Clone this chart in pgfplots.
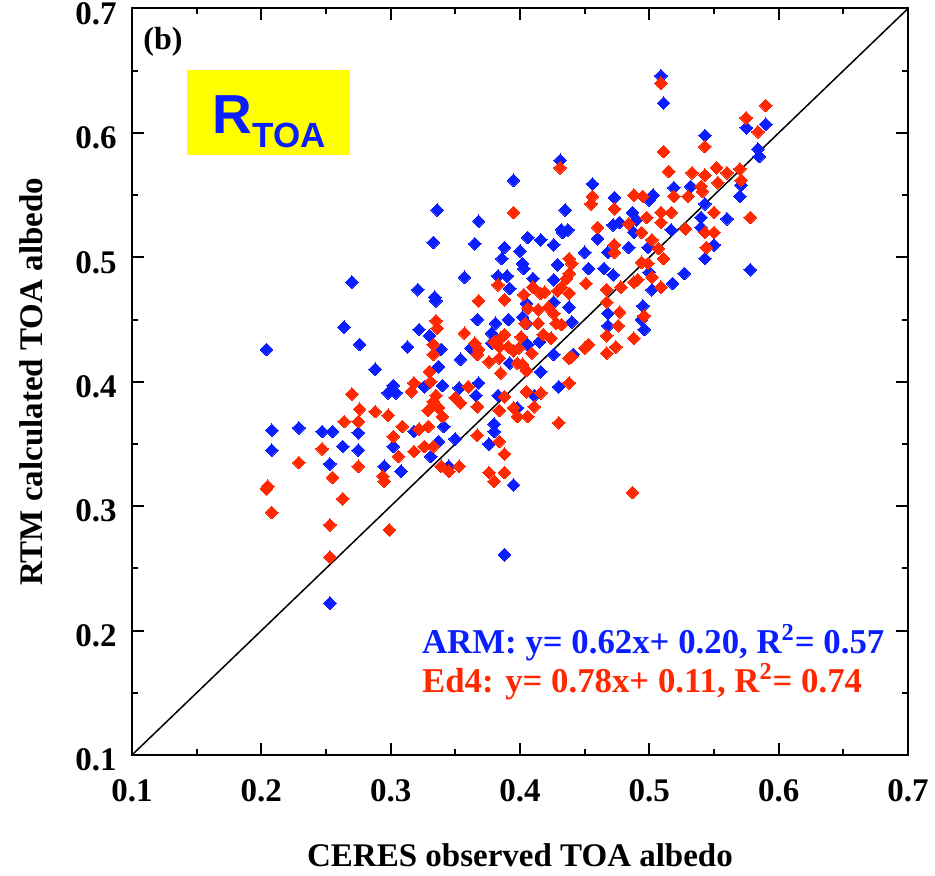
\documentclass[border=0pt]{standalone}
\usepackage{fontspec}
\setmainfont{Liberation Serif}
\newfontfamily\sansbf{Liberation Sans}
\usepackage{pgfplots}
\pgfplotsset{compat=1.18}
\usetikzlibrary{calc}
\definecolor{armblue}{RGB}{10,30,255}
\definecolor{edred}{RGB}{255,40,0}
\definecolor{boxyellow}{RGB}{255,255,0}

\pgfplotstableread{
x y
0.270 0.480
0.264 0.444
0.276 0.430
0.204 0.426
0.288 0.410
0.298 0.391
0.208 0.361
0.229 0.363
0.247 0.360
0.255 0.360
0.275 0.359
0.208 0.345
0.263 0.348
0.275 0.345
0.253 0.334
0.295 0.332
0.253 0.222
0.431 0.578
0.395 0.562
0.336 0.538
0.435 0.538
0.368 0.529
0.433 0.520
0.437 0.522
0.333 0.512
0.406 0.516
0.416 0.514
0.365 0.511
0.426 0.510
0.388 0.508
0.400 0.505
0.386 0.499
0.402 0.495
0.403 0.491
0.429 0.494
0.357 0.484
0.383 0.485
0.390 0.485
0.410 0.483
0.426 0.482
0.392 0.475
0.321 0.474
0.334 0.468
0.335 0.465
0.405 0.463
0.426 0.464
0.438 0.460
0.381 0.447
0.367 0.450
0.391 0.450
0.402 0.452
0.440 0.448
0.322 0.442
0.330 0.437
0.313 0.428
0.378 0.439
0.339 0.426
0.362 0.427
0.378 0.431
0.406 0.430
0.415 0.432
0.426 0.422
0.441 0.422
0.354 0.418
0.392 0.415
0.416 0.408
0.337 0.412
0.302 0.397
0.304 0.391
0.326 0.396
0.340 0.397
0.341 0.364
0.353 0.395
0.368 0.399
0.366 0.389
0.383 0.389
0.398 0.379
0.411 0.389
0.430 0.396
0.380 0.366
0.380 0.360
0.376 0.350
0.318 0.360
0.337 0.352
0.350 0.354
0.302 0.348
0.331 0.340
0.345 0.332
0.308 0.328
0.395 0.317
0.509 0.646
0.511 0.624
0.575 0.604
0.590 0.607
0.543 0.598
0.584 0.587
0.585 0.581
0.571 0.558
0.532 0.557
0.519 0.556
0.456 0.559
0.503 0.550
0.500 0.546
0.543 0.543
0.570 0.549
0.473 0.548
0.487 0.536
0.560 0.531
0.490 0.530
0.472 0.526
0.477 0.528
0.460 0.515
0.488 0.520
0.517 0.522
0.540 0.532
0.540 0.524
0.550 0.510
0.499 0.508
0.484 0.508
0.468 0.504
0.450 0.504
0.432 0.522
0.543 0.499
0.578 0.490
0.527 0.487
0.518 0.479
0.502 0.474
0.500 0.488
0.472 0.486
0.465 0.491
0.453 0.491
0.495 0.461
0.494 0.450
0.468 0.455
0.468 0.445
0.496 0.442
0.388 0.261
0.405 0.447
}\armdata

\pgfplotstableread{
x y
0.270 0.390
0.276 0.378
0.288 0.376
0.298 0.373
0.264 0.368
0.275 0.368
0.247 0.346
0.229 0.335
0.275 0.332
0.294 0.324
0.295 0.320
0.255 0.323
0.205 0.316
0.204 0.314
0.263 0.306
0.208 0.295
0.253 0.285
0.253 0.259
0.299 0.281
0.431 0.572
0.395 0.536
0.440 0.495
0.438 0.487
0.436 0.483
0.383 0.478
0.410 0.476
0.432 0.476
0.403 0.470
0.438 0.471
0.368 0.465
0.388 0.466
0.416 0.471
0.422 0.460
0.414 0.458
0.406 0.459
0.426 0.455
0.404 0.447
0.414 0.447
0.432 0.446
0.335 0.449
0.336 0.443
0.357 0.439
0.365 0.431
0.333 0.430
0.388 0.438
0.401 0.436
0.418 0.438
0.424 0.435
0.333 0.422
0.367 0.422
0.380 0.432
0.385 0.435
0.391 0.428
0.399 0.427
0.409 0.423
0.438 0.419
0.376 0.416
0.385 0.407
0.398 0.415
0.405 0.409
0.330 0.408
0.316 0.392
0.318 0.399
0.331 0.400
0.335 0.389
0.333 0.384
0.329 0.377
0.337 0.379
0.340 0.372
0.350 0.387
0.360 0.396
0.354 0.383
0.367 0.380
0.388 0.388
0.384 0.377
0.395 0.379
0.405 0.392
0.416 0.391
0.411 0.380
0.406 0.372
0.398 0.372
0.438 0.399
0.430 0.367
0.367 0.357
0.384 0.352
0.388 0.342
0.309 0.364
0.302 0.356
0.322 0.362
0.329 0.364
0.333 0.348
0.326 0.348
0.318 0.344
0.306 0.340
0.339 0.332
0.345 0.328
0.353 0.332
0.376 0.327
0.380 0.320
0.388 0.327
0.509 0.640
0.590 0.622
0.575 0.612
0.584 0.601
0.543 0.589
0.511 0.585
0.515 0.569
0.552 0.572
0.533 0.568
0.560 0.568
0.570 0.571
0.543 0.566
0.571 0.562
0.553 0.560
0.540 0.557
0.456 0.549
0.455 0.543
0.488 0.550
0.495 0.549
0.519 0.549
0.530 0.549
0.541 0.553
0.473 0.539
0.509 0.536
0.517 0.536
0.550 0.536
0.578 0.532
0.498 0.532
0.509 0.528
0.484 0.527
0.460 0.524
0.494 0.520
0.502 0.514
0.528 0.523
0.543 0.520
0.550 0.520
0.544 0.508
0.507 0.507
0.473 0.510
0.473 0.504
0.438 0.499
0.509 0.476
0.502 0.484
0.488 0.480
0.491 0.482
0.478 0.476
0.451 0.479
0.494 0.496
0.499 0.495
0.511 0.499
0.467 0.474
0.467 0.464
0.477 0.456
0.496 0.453
0.476 0.445
0.467 0.437
0.488 0.435
0.453 0.430
0.450 0.427
0.474 0.428
0.467 0.423
0.440 0.420
0.487 0.311
0.419 0.472
0.429 0.473
0.428 0.447
0.384 0.428
0.395 0.425
0.368 0.426
0.384 0.419
0.402 0.414
}\eddata

\begin{document}
\begin{tikzpicture}
\begin{axis}[
  scale only axis,
  width=388pt, height=373.25pt,
  xmin=0.1, xmax=0.7, ymin=0.1, ymax=0.7,
  xtick={0.1,0.2,0.3,0.4,0.5,0.6,0.7},
  ytick={0.1,0.2,0.3,0.4,0.5,0.6,0.7},
  xticklabels={0.1,0.2,0.3,0.4,0.5,0.6,0.7},
  yticklabels={0.1,0.2,0.3,0.4,0.5,0.6,0.7},
  minor tick num=1,
  tick align=inside,
  major tick length=6pt,
  minor tick length=3pt,
  axis line style={line width=1pt},
  every tick/.style={black, line width=1pt},
  ticklabel style={font=\bfseries\fontsize{16.5}{18}\selectfont, inner sep=0pt},
  xticklabel style={yshift=-12pt},
  yticklabel style={xshift=-7.5pt, yshift=-2.5pt},
  xlabel={CERES observed TOA albedo},
  ylabel={RTM calculated TOA albedo},
  label style={font=\bfseries\fontsize{16.5}{18}\selectfont},
  xlabel style={at={(axis description cs:0.5,-0.134)}, anchor=center},
  ylabel style={at={(axis description cs:-0.1302,0.5)}, anchor=center},
  clip=false,
]
\fill[boxyellow] (axis cs:0.1426,0.5822) rectangle (axis cs:0.2682,0.6506);
\node[anchor=base, inner sep=0pt, text=armblue] at (axis cs:0.2062,0.5999)
  {\sansbf\bfseries\fontsize{27.5}{29}\selectfont R\raisebox{-7pt}{\fontsize{17.5}{18}\selectfont TOA}};
\node[anchor=north west, inner sep=0pt] at (axis cs:0.1085,0.6851)
  {\bfseries\fontsize{16}{18}\selectfont (b)};

\addplot[black, line width=0.75pt] coordinates {(0.1,0.1) (0.7,0.7)};

\addplot[armblue, only marks, mark=square*, mark size=2.25pt,
  mark options={rotate=45, fill=armblue, draw=armblue, line width=0pt}] table[x=x,y=y] {\armdata};
\addplot[edred, only marks, mark=square*, mark size=2.25pt,
  mark options={rotate=45, fill=edred, draw=edred, line width=0pt}] table[x=x,y=y] {\eddata};

\node[anchor=base west, inner sep=0pt, text=armblue] at (axis cs:0.324,0.1819)
  {\bfseries\fontsize{17.4}{19}\selectfont ARM: y= 0.62x+ 0.20, R\textsuperscript{2}= 0.57};
\node[anchor=base west, inner sep=0pt, text=edred] at (axis cs:0.324,0.1506)
  {\bfseries\fontsize{17.4}{19}\selectfont Ed4: y= 0.78x+ 0.11, R\textsuperscript{2}= 0.74};
\end{axis}
\path ($(current axis.south west)+(-66pt,-60pt)$) rectangle ($(current axis.north east)+(13.5pt,4.25pt)$);
\end{tikzpicture}
\end{document}
